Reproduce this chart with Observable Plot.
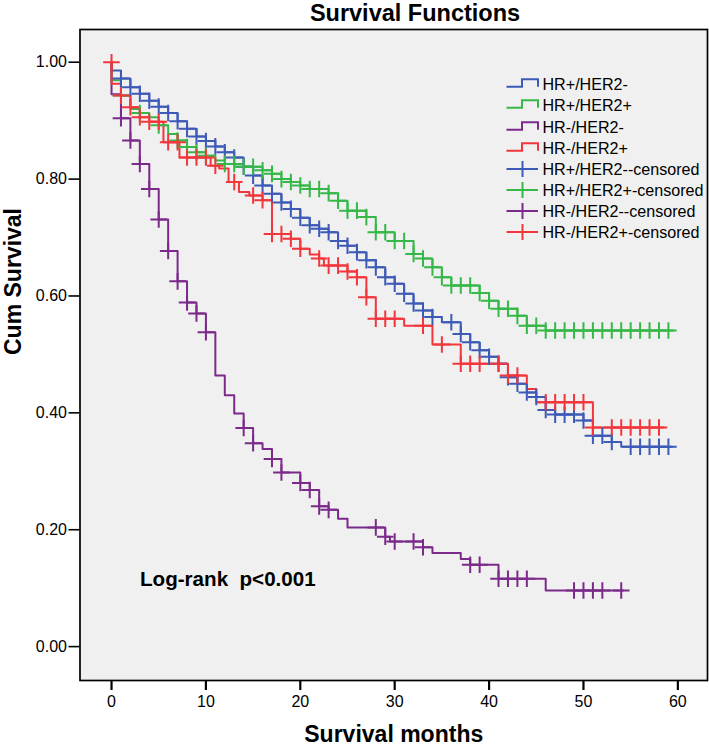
<!DOCTYPE html>
<html>
<head>
<meta charset="utf-8">
<script src="https://cdn.jsdelivr.net/npm/d3@7"></script>
<script src="https://cdn.jsdelivr.net/npm/@observablehq/plot@0.6"></script>
<style>
  body { margin: 0; background: #fff; font-family: "Liberation Sans", Arial, sans-serif; }
  #wrap { position: relative; width: 709px; height: 747px; overflow: hidden; background: #fff; }
  #title { height: 24px; position: relative; }
  #title span { position: absolute; left: 415px; top: 1px; transform: translateX(-50%); white-space: nowrap;
    font-size: 23.5px; line-height: 24px; font-weight: bold; color: #000; }
  #chart svg { display: block; }
  #legend { position: absolute; left: 506px; top: 0; width: 201px; height: 260px; }
  .lg-row { position: absolute; left: 0; height: 20px; width: 200px; }
  .lg-row svg { position: absolute; left: 0; top: 0; }
  .lg-row span { position: absolute; left: 36.5px; top: 0; line-height: 20px; font-size: 16.1px; color: #000; white-space: nowrap; }
</style>
</head>
<body>
<div id="wrap">
  <div id="title"><span>Survival Functions</span></div>
  <div id="chart"></div>
  <div id="legend"></div>
</div>
<script>
// ---------- data (months, cumulative survival) ----------
const seriesNames = ["HR+/HER2-", "HR+/HER2+", "HR-/HER2-", "HR-/HER2+"];
const seriesColors = ["#3d5ab6", "#35b847", "#7b2a8a", "#f2363c"];

const blueT = [0, 0, 1, 2, 3, 4, 5, 6, 7, 8, 9, 10, 11, 12, 13, 14, 15, 16, 17, 18, 19, 20, 21, 22, 23, 24, 25, 26, 27, 28, 29, 30, 31, 32, 33, 34, 35, 37, 38, 39, 40, 41, 42, 43, 44, 45, 46, 47, 50, 51, 53, 54];
const blueS = [1, 0.986, 0.972, 0.957, 0.946, 0.934, 0.924, 0.913, 0.899, 0.886, 0.873, 0.865, 0.856, 0.846, 0.837, 0.821, 0.806, 0.789, 0.775, 0.760, 0.749, 0.734, 0.721, 0.715, 0.709, 0.694, 0.686, 0.675, 0.661, 0.649, 0.632, 0.621, 0.604, 0.587, 0.575, 0.564, 0.555, 0.535, 0.521, 0.507, 0.496, 0.484, 0.461, 0.450, 0.435, 0.427, 0.405, 0.397, 0.387, 0.361, 0.350, 0.342];
const blueEnd = 59.4;
const blueCensor = [1, 2, 3, 4, 5, 6, 7, 8, 9, 10, 11, 12, 13, 14, 15, 16, 17, 18, 19, 20, 21, 22, 23, 24, 25, 26, 27, 28, 29, 30, 31, 32, 33, 34, 36, 37, 38, 39, 40, 41, 42, 43, 44, 45, 46, 47, 48, 49, 50, 51, 52, 53, 55, 56, 57, 58, 59];

const greenT = [0, 0, 1, 2, 3, 4, 5, 6, 7, 8, 9, 10, 11, 12, 14, 16, 17, 18, 19, 20, 21, 23, 24, 25, 27, 28, 30, 32, 33, 34, 35, 36, 39, 40, 41, 43, 44, 46];
const greenS = [1, 0.969, 0.943, 0.920, 0.913, 0.906, 0.892, 0.877, 0.866, 0.855, 0.846, 0.840, 0.832, 0.826, 0.821, 0.815, 0.809, 0.800, 0.795, 0.789, 0.783, 0.776, 0.763, 0.746, 0.735, 0.709, 0.694, 0.672, 0.664, 0.649, 0.632, 0.618, 0.605, 0.592, 0.578, 0.566, 0.549, 0.541];
const greenEnd = 59.5;
const greenCensor = [1, 3, 5, 7, 8, 9, 10, 12, 13, 14, 15, 16, 17, 18, 19, 20, 21, 22, 23, 24, 25, 26, 27, 28, 29, 30, 31, 32, 33, 34, 35, 36, 37, 38, 39, 40, 41, 42, 43, 44, 45, 46, 47, 48, 49, 50, 51, 52, 53, 54, 55, 56, 57, 58, 59];

const purpleT = [0, 0, 1, 2, 3, 4, 5, 6, 7, 8, 9, 10, 11, 12, 13, 14, 15, 16, 17, 18, 20, 21, 22, 23, 24, 25, 29, 29.5, 33, 34, 37, 38, 41, 46];
const purpleS = [1, 0.945, 0.904, 0.866, 0.826, 0.783, 0.731, 0.677, 0.625, 0.589, 0.570, 0.538, 0.464, 0.430, 0.399, 0.374, 0.348, 0.338, 0.321, 0.298, 0.280, 0.268, 0.240, 0.234, 0.219, 0.204, 0.188, 0.180, 0.170, 0.160, 0.150, 0.140, 0.116, 0.096];
const purpleEnd = 54.2;
const purpleCensor = [1, 2, 3, 4, 5, 6, 7, 8, 9, 10, 14, 15, 17, 18, 20, 21, 22, 23, 28, 29, 30, 32, 33, 38, 39, 41, 42, 43, 44, 49, 50, 51, 52, 54];

const redT = [0, 0, 1, 2, 3, 4, 5.5, 7.2, 10.5, 11.4, 12.4, 13.5, 14.6, 16, 17, 19, 20, 21, 22, 22.5, 25, 26, 27, 28, 31, 34, 37, 42, 44, 45, 51];
const redS = [1, 0.963, 0.943, 0.923, 0.906, 0.898, 0.863, 0.837, 0.823, 0.818, 0.795, 0.778, 0.772, 0.764, 0.706, 0.698, 0.681, 0.671, 0.664, 0.652, 0.642, 0.632, 0.598, 0.561, 0.549, 0.517, 0.484, 0.464, 0.441, 0.418, 0.375];
const redEnd = 58.5;
const redCensor = [0, 1, 2, 3, 4, 5, 6, 7, 8, 9, 10, 11, 13, 15, 16, 17, 18, 19, 20, 22, 23, 24, 25, 26, 27, 28, 29, 30, 33, 35, 37, 38, 39, 41, 42, 43, 46, 47, 48, 49, 50, 51, 53, 54, 55, 56, 57, 58];

const xTicks = [0, 10, 20, 30, 40, 50, 60];
const yTicks = [0, 0.2, 0.4, 0.6, 0.8, 1.0];

// ---------- build tables ----------
const groups = [
  {name: seriesNames[0], color: seriesColors[0], T: blueT, S: blueS, end: blueEnd, cens: blueCensor},
  {name: seriesNames[1], color: seriesColors[1], T: greenT, S: greenS, end: greenEnd, cens: greenCensor},
  {name: seriesNames[2], color: seriesColors[2], T: purpleT, S: purpleS, end: purpleEnd, cens: purpleCensor},
  {name: seriesNames[3], color: seriesColors[3], T: redT, S: redS, end: redEnd, cens: redCensor}
];

function survAt(g, t) {
  if (t === 0) return g.S[0];
  let v = g.S[0];
  for (let i = 0; i < g.T.length; i++) if (g.T[i] <= t) v = g.S[i];
  return v;
}

const lineMarks = [];
const censorMarks = [];
for (const g of groups) {
  const pts = g.T.map((t, i) => ({t, s: g.S[i]}));
  pts.push({t: g.end, s: g.S[g.S.length - 1]});
  lineMarks.push(Plot.line(pts, {x: "t", y: "s", curve: "step-after", stroke: g.color, strokeWidth: 2}));
  const cpts = g.cens.map(t => ({t, s: survAt(g, t)}));
  censorMarks.push(Plot.dot(cpts, {x: "t", y: "s", symbol: "plus", r: 5.4, stroke: g.color, strokeWidth: 2, fill: "none"}));
}

const chart = Plot.plot({
  width: 709,
  height: 723,
  marginLeft: 79.5,
  marginRight: 2,
  marginTop: 5,
  marginBottom: 67,
  x: {domain: [-3.34, 63.14]},
  y: {domain: [-0.058, 1.056]},
  style: {fontFamily: "'Liberation Sans', Arial, sans-serif", fontSize: "16px", color: "#000", background: "#fff", overflow: "visible"},
  marks: [
    Plot.frame({fill: "#f0f0f0", stroke: "none"}),
    ...lineMarks,
    ...censorMarks,
    Plot.frame({stroke: "#000", strokeWidth: 1.7, fill: "none"}),
    Plot.axisX({ticks: xTicks, tickSize: 10, tickPadding: 5, strokeWidth: 2.2, fontSize: 16, label: null}),
    Plot.axisY({ticks: yTicks, tickSize: 11, tickPadding: 2, strokeWidth: 1.6, fontSize: 16, tickFormat: d3.format(".2f"), label: null}),
    Plot.text(["Survival months"], {text: d => d, frameAnchor: "bottom", dy: 61, lineAnchor: "bottom", fontSize: 23, fontWeight: "bold"}),
    Plot.text(["Cum Survival"], {text: d => d, frameAnchor: "left", dx: -66, rotate: -90, fontSize: 23, fontWeight: "bold"}),
    Plot.text(["Log-rank  p<0.001"], {text: d => d, frameAnchor: "bottom-left", dx: 60, dy: -95, textAnchor: "start", fontSize: 20.6, fontWeight: "bold"})
  ]
});
document.getElementById("chart").appendChild(chart);

// ---------- legend (inside plot area, top right) ----------
const legendLabels = [
  ...seriesNames.map((n, i) => ({label: n, color: seriesColors[i], kind: "step"})),
  ...seriesNames.map((n, i) => ({label: n + "-censored", color: seriesColors[i], kind: "cens"}))
];
const legend = document.getElementById("legend");
legendLabels.forEach((d, i) => {
  const row = document.createElement("div");
  row.className = "lg-row";
  row.style.top = (74.3 + 21.1 * i) + "px";
  const sym = d.kind === "step"
    ? `<path d="M0.5,12.7 H16 V5.3 H32 V12.7" fill="none" stroke="${d.color}" stroke-width="2"/>`
    : `<path d="M0.5,10 H32 M16.5,2 V18" fill="none" stroke="${d.color}" stroke-width="2"/>`;
  row.innerHTML = `<svg width="34" height="20">${sym}</svg><span>${d.label}</span>`;
  legend.appendChild(row);
});
</script>
</body>
</html>
